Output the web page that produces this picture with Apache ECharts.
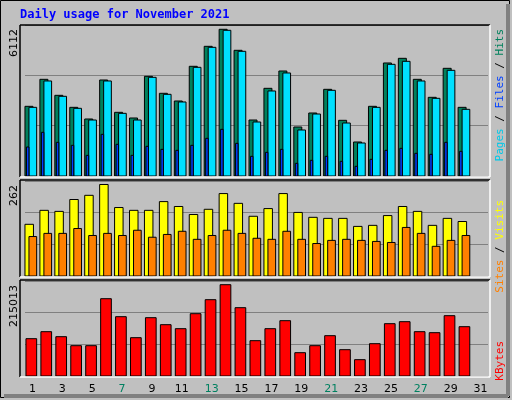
<!DOCTYPE html>
<html><head><meta charset="utf-8">
<script src="https://cdn.jsdelivr.net/npm/echarts@6/dist/echarts.min.js"></script>
<style>html,body{margin:0;padding:0;background:#c0c0c0}#c{width:512px;height:400px}</style>
</head><body><div id="c"></div>
<script>
const days = ['1','2','3','4','5','6','7','8','9','10','11','12','13','14','15','16','17','18','19','20','21','22','23','24','25','26','27','28','29','30','31'];
const weekend = ['6','7','13','14','20','21','27','28'];
const hits = [2903,4028,3361,2861,2375,4000,2653,2417,4153,3445,3125,4570,5403,6112,5237,2333,3653,4375,2042,2625,3611,2320,1417,2903,4709,4903,4028,3278,4486,2861];
const files = [2861,3959,3320,2820,2333,3959,2611,2333,4111,3403,3084,4528,5361,6070,5195,2250,3542,4292,1917,2583,3570,2208,1375,2861,4653,4778,3959,3236,4403,2778];
const pages = [1208,1820,1403,1278,861,1736,1320,861,1236,1111,1070,1278,1570,1945,1361,820,986,1111,528,653,820,611,403,695,1070,1153,945,903,1403,1028];
const visits = [148,188,185,219,231,262,196,188,188,213,199,176,191,236,208,171,193,236,182,168,165,165,142,145,173,199,185,145,165,156];
const sites = [113,122,122,136,116,122,116,131,111,119,128,105,116,131,122,108,105,128,105,93,102,105,102,99,96,139,122,85,102,116];
const kbytes = [87886,104366,92595,71408,71408,182050,139677,90240,137323,120844,111427,146739,179696,215013,160863,83178,111427,130260,54929,71408,94949,61991,38450,76116,123198,127906,104366,102011,142031,116135];
const maxLabels = ['6112','262','215013'];

const chart = echarts.init(document.getElementById('c'));
function barSeries(data, gi, x0, x1, color, z){
  return {type:'custom', xAxisIndex:gi, yAxisIndex:gi, z:z, data:data.map((v,i)=>[i,v]),
    renderItem:(p,api)=>{
      const top=api.coord([api.value(0),api.value(1)]);
      const base=api.coord([api.value(0),0]);
      return {type:'rect', shape:{x:top[0]+x0, y:top[1], width:x1-x0, height:base[1]-top[1]},
        style:{fill:color, stroke:'#000', lineWidth:1}};
    }};
}
const grids=[{top:25,height:151},{top:181,height:95},{top:281,height:95}];
const maxes=[6291,272,223700];
const xAxis=grids.map((g,i)=>({gridIndex:i,type:'category',data:days,show:i===2,
  axisLine:{show:false},axisTick:{show:false},
  axisLabel:{show:i===2,margin:8,fontFamily:'DejaVu Sans',fontSize:11,
    color:(v)=>weekend.includes(v)?'#008060':'#000'}}));
const yAxis=grids.map((g,i)=>({gridIndex:i,type:'value',min:0,max:maxes[i],interval:maxes[i]/3,
  axisLabel:{show:false},axisLine:{show:false},axisTick:{show:false},
  splitLine:{show:true,lineStyle:{color:'#808080',width:1}}}));
function frame(y,h){
  return [
    {type:'line',shape:{x1:20,y1:y,x2:490,y2:y},style:{stroke:'#000',lineWidth:1.5},z:10},
    {type:'line',shape:{x1:20,y1:y,x2:20,y2:y+h},style:{stroke:'#000',lineWidth:1.5},z:10},
    {type:'line',shape:{x1:490,y1:y,x2:490,y2:y+h},style:{stroke:'#fff',lineWidth:1.5},z:10},
    {type:'line',shape:{x1:20,y1:y+h,x2:490,y2:y+h},style:{stroke:'#fff',lineWidth:1.5},z:10}];
}
function rot(text,x,y,color,size,font){
  return {type:'text',x:x,y:y,rotation:Math.PI/2,z:20,
    style:{text:text,fill:color,font:size+'px '+font,textAlign:'right',textVerticalAlign:'middle'}};
}
const mono='"DejaVu Sans Mono", monospace';
chart.setOption({
  animation:false, backgroundColor:'#c0c0c0',
  grid:grids.map(g=>({left:25,width:463,top:g.top,height:g.height})),
  xAxis:xAxis, yAxis:yAxis,
  graphic:[
    {type:'rect',shape:{x:0.5,y:0.5,width:509,height:397},style:{fill:'none',stroke:'#000',lineWidth:1},z:0},
    {type:'line',shape:{x1:508,y1:4,x2:508,y2:396},style:{stroke:'#808080',lineWidth:4}},
    {type:'line',shape:{x1:4,y1:396,x2:508,y2:396},style:{stroke:'#808080',lineWidth:4}},
    {type:'text',x:20,y:15,z:20,style:{text:'Daily usage for November 2021',fill:'#0000ff',font:'bold 12px '+mono,textVerticalAlign:'middle'}},
    ...frame(25,152),...frame(180,97),...frame(280,97),
    rot(maxLabels[0],14,29,'#000',11,'DejaVu Sans'),
    rot(maxLabels[1],14,185,'#000',11,'DejaVu Sans'),
    rot(maxLabels[2],14,285,'#000',11,'DejaVu Sans'),
    {type:'text',x:500,y:29,rotation:Math.PI/2,z:20,
      style:{rich:{p:{fill:'#00c8e8',font:'11px '+mono},s:{fill:'#000',font:'11px '+mono},f:{fill:'#0040ff',font:'11px '+mono},h:{fill:'#00805c',font:'11px '+mono}},
        text:'{p|Pages}{s| / }{f|Files}{s| / }{h|Hits}',textAlign:'right',textVerticalAlign:'middle'}},
    {type:'text',x:500,y:200,rotation:Math.PI/2,z:20,
      style:{rich:{a:{fill:'#ff8000',font:'11px '+mono},s:{fill:'#000',font:'11px '+mono},b:{fill:'#ffff00',font:'11px '+mono}},
        text:'{a|Sites}{s| / }{b|Visits}',textAlign:'right',textVerticalAlign:'middle'}},
    {type:'text',x:500,y:341,rotation:Math.PI/2,z:20,
      style:{text:'KBytes',fill:'#ff0000',font:'11px '+mono,textAlign:'right',textVerticalAlign:'middle'}}
  ],
  series:[
    barSeries(hits,0,-7.5,0.5,'#00805c',2),
    barSeries(files,0,-3.5,4.2,'#00e0ff',3),
    barSeries(pages,0,-6,-3.5,'#0040ff',4),
    barSeries(visits,1,-7.5,1,'#ffff00',2),
    barSeries(sites,1,-3.5,4.2,'#ff8000',3),
    barSeries(kbytes,2,-6.5,4.2,'#ff0000',2)
  ]
});
</script></body></html>
